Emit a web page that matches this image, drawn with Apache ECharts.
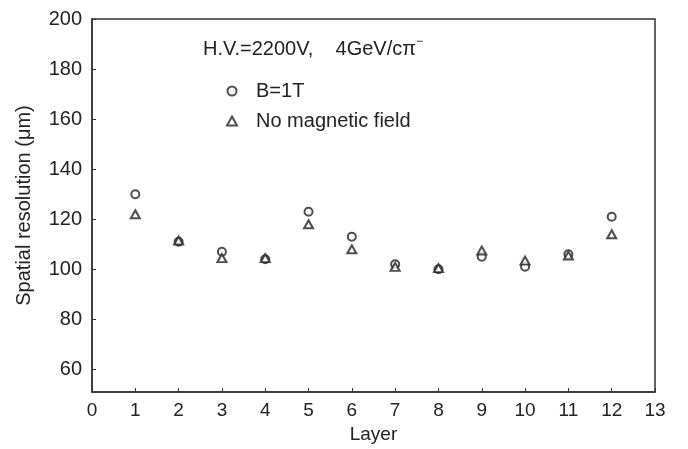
<!DOCTYPE html>
<html>
<head>
<meta charset="utf-8">
<script src="https://cdn.jsdelivr.net/npm/echarts@6/dist/echarts.min.js"></script>
<style>html,body{margin:0;padding:0;background:#fff}#c{width:688px;height:449px}</style>
</head>
<body>
<div id="c"></div>
<script>
const layers = [1,2,3,4,5,6,7,8,9,10,11,12];
const withField = [130,111,107,104,123,113,102,100,105,101,106,121];
const noField = [122,111.5,104.5,104.5,118,108,101,100.5,107.5,103.5,105.5,114];
const yTicks = [60,80,100,120,140,160,180,200];
const seriesNames = ['B=1T','No magnetic field'];

const font = 'Liberation Sans, Arial, Helvetica, sans-serif';
const ink = '#222';
const chart = echarts.init(document.getElementById('c'), null, {renderer:'canvas'});
chart.setOption({
  animation:false,
  backgroundColor:'#fff',
  grid:{left:92,right:33,top:19,bottom:57,show:true,borderColor:'#333',borderWidth:1.5,backgroundColor:'transparent'},
  xAxis:{type:'value',min:0,max:13,interval:1,
    name:'Layer',nameLocation:'middle',nameGap:31,
    nameTextStyle:{fontFamily:font,fontSize:19,color:ink},
    axisLine:{lineStyle:{color:'#333',width:1.5}},
    axisTick:{inside:true,length:4,lineStyle:{color:'#333'}},
    axisLabel:{fontFamily:font,fontSize:19,color:ink,margin:9},
    splitLine:{show:false}},
  yAxis:{type:'value',min:51,max:200,
    name:'Spatial resolution (μm)',nameLocation:'middle',nameGap:58,
    nameTextStyle:{fontFamily:font,fontSize:20,color:ink},
    axisLine:{lineStyle:{color:'#333',width:1.5}},
    axisTick:{inside:true,length:4,customValues:yTicks,lineStyle:{color:'#333'}},
    axisLabel:{fontFamily:font,fontSize:20,color:ink,margin:10,customValues:yTicks},
    splitLine:{show:false}},
  legend:{orient:'vertical',left:221,top:76,itemGap:10,itemWidth:10,itemHeight:9,
    textStyle:{fontFamily:font,fontSize:20,color:ink,padding:[0,0,0,14]},
    data:seriesNames},
  graphic:[{type:'text',left:203,top:36,style:{
    text:'{n|H.V.=2200V,    4GeV/cπ}{s|−}',
    rich:{n:{fontFamily:font,fontSize:20,fill:ink,lineHeight:23,verticalAlign:'bottom'},
          s:{fontFamily:font,fontSize:12,fill:ink,lineHeight:23,verticalAlign:'top'}}}}],
  series:[
    {name:seriesNames[0],type:'scatter',symbol:'emptyCircle',symbolSize:8,
     itemStyle:{color:'#222',borderWidth:1},
     data:layers.map((l,i)=>[l,withField[i]])},
    {name:seriesNames[1],type:'scatter',symbol:'emptyTriangle',symbolSize:[9,8],
     itemStyle:{color:'#222',borderWidth:1},
     data:layers.map((l,i)=>[l,noField[i]])}
  ]
});
</script>
</body>
</html>
